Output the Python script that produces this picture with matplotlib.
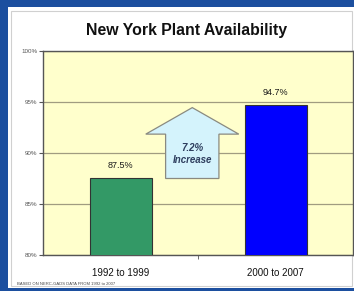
import matplotlib.pyplot as plt
from matplotlib.patches import Rectangle, Polygon

# data
periods = ['1992 to 1999', '2000 to 2007']
availability = [87.5, 94.7]
bar_colors = ['#339966', '#0000ff']
ytick_vals = [80, 85, 90, 95, 100]
ytick_labels = ['80%', '85%', '90%', '95%', '100%']
increase_text = '7.2%\nIncrease'
title = 'New York Plant Availability'
source_note = 'BASED ON NERC-GADS DATA FROM 1992 to 2007'

plt.rcParams['font.family'] = ['Liberation Sans', 'DejaVu Sans']

W, H = 354, 291
fig = plt.figure(figsize=(W / 100, H / 100), dpi=100)
fig.patch.set_facecolor('#1c4f9f')

# white panel behind the chart
fig.patches.append(Rectangle((8 / W, 3 / H), 1, 281 / H, transform=fig.transFigure,
                             facecolor='white', edgecolor='none', zorder=-2))
fig.patches.append(Rectangle((11 / W, 5 / H), 341 / W, 275 / H, transform=fig.transFigure,
                             facecolor='none', edgecolor='#d0d0d0', lw=0.8, zorder=-1))

ax = fig.add_axes([43 / W, 36 / H, 310 / W, 204 / H])
ax.set_zorder(1)
ax.set_facecolor('#ffffcc')
x = range(len(periods))
ax.bar(x, availability, width=0.40, color=bar_colors, edgecolor='#333333', lw=0.8, zorder=3)
ax.set_xlim(-0.5, 1.5)
ax.set_ylim(80, 100)

for xi, v in zip(x, availability):
    ax.text(xi, v + 0.8, f'{v}%', ha='center', va='bottom', fontsize=6.5,
            color='#1a1a1a', zorder=4)

# arrow between the bars
cx, bw, hw = 0.463, 0.172, 0.30
lo, hi, shoulder = availability[0], availability[1] - 0.25, 91.85
arrow = Polygon([(cx - bw, lo), (cx - bw, shoulder), (cx - hw, shoulder), (cx, hi),
                 (cx + hw, shoulder), (cx + bw, shoulder), (cx + bw, lo)],
                closed=True, facecolor='#d4f3fc', edgecolor='#8a8a80', lw=0.9, zorder=4)
ax.add_patch(arrow)
ax.text(cx, 89.9, increase_text, ha='center', va='center', fontsize=7,
        fontweight='bold', fontstyle='italic', color='#2f3f5f', linespacing=1.25, zorder=5)

ax.set_yticks(ytick_vals)
ax.set_yticklabels(ytick_labels, fontsize=4.5, color='#555555')
ax.set_xticks(list(x))
ax.set_xticklabels(periods, fontsize=7, color='#111111')
ax.set_xticks([0.5], minor=True)
ax.tick_params(axis='x', which='major', length=0, pad=9)
ax.tick_params(axis='x', which='minor', length=3, color='#555555')
ax.tick_params(axis='y', length=3, color='#555555', pad=1)
ax.grid(axis='y', color='#a09c80', lw=0.9, zorder=1)
for s in ax.spines.values():
    s.set_color('#555555')
    s.set_linewidth(1.0)

fig.text(187 / W, 1 - 30 / H, title, ha='center', va='center', fontsize=11.4,
         fontweight='bold', color='#111111')
fig.text(17 / W, 1 - 284 / H, source_note, ha='left', va='center', fontsize=3.0,
         color='#444444')

fig.savefig('out.png', dpi=100, facecolor=fig.get_facecolor())
